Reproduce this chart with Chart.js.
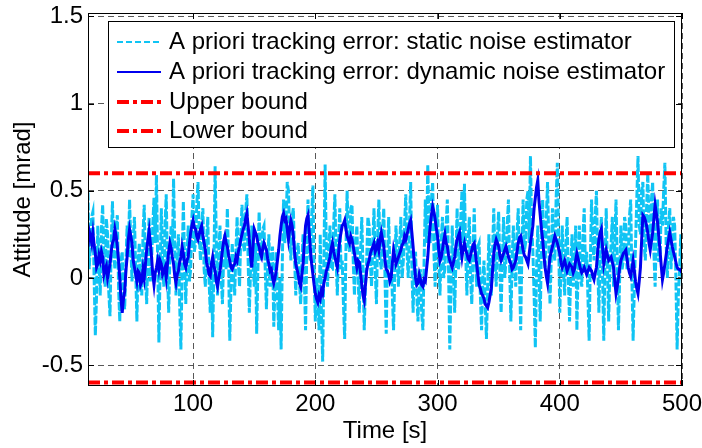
<!DOCTYPE html>
<html>
<head>
<meta charset="utf-8">
<script src="https://cdn.jsdelivr.net/npm/chart.js@4"></script>
<style>
  html, body { margin: 0; padding: 0; background: #fff; }
  #wrap { width: 702px; height: 448px; position: relative; }
</style>
</head>
<body>
<div id="wrap"><canvas id="chart"></canvas></div>
<script>
// sample times: every 1 s from 14 s to 500 s
const tStart = 14;
const tStep = 1;

// A priori tracking error, static noise estimator [mrad]
const staticErr = [
  0.49, 0.05, 0.20, 0.35, 0.38, 0.00, -0.33, -0.10, 0.30, 0.10, -0.10, 0.28, 0.42, 0.12, -0.05, 0.34, 0.25, -0.08, -0.22, 0.20,
  0.44, 0.15, 0.05, 0.30, 0.36, -0.05, -0.25, 0.10, 0.15, -0.12, -0.18, 0.08, 0.30, 0.12, 0.45, 0.20, -0.02, 0.22, 0.35, 0.05,
  -0.25, 0.10, 0.20, -0.05, -0.10, 0.25, 0.42, 0.05, -0.15, 0.15, 0.35, -0.02, 0.10, 0.30, 0.46, 0.20, 0.59, 0.10, -0.37, 0.05,
  0.40, 0.10, -0.05, 0.30, 0.48, 0.05, -0.20, 0.12, 0.30, 0.15, 0.57, 0.20, -0.10, 0.10, 0.25, -0.15, -0.41, 0.05, 0.44, 0.10,
  -0.15, 0.12, 0.30, -0.02, 0.05, 0.35, 0.48, 0.15, 0.20, 0.42, 0.55, 0.25, 0.10, 0.30, 0.40, 0.05, -0.05, 0.22, 0.35, 0.00,
  -0.20, 0.10, -0.34, 0.05, 0.64, 0.20, -0.10, 0.15, 0.30, 0.00, -0.15, 0.12, 0.25, 0.05, 0.40, 0.10, -0.36, -0.05, 0.20, 0.02,
  -0.10, 0.15, 0.35, 0.10, -0.05, 0.25, 0.42, 0.20, 0.15, 0.38, 0.48, 0.10, -0.20, 0.05, 0.30, 0.10, -0.05, 0.20, -0.32, 0.05,
  0.38, 0.15, 0.10, 0.28, 0.30, 0.05, -0.18, 0.10, 0.25, -0.05, 0.00, 0.18, -0.28, -0.05, 0.15, -0.10, -0.30, 0.00, -0.41, 0.10,
  0.45, 0.20, 0.30, 0.55, 0.50, 0.25, 0.10, 0.35, 0.40, 0.12, -0.10, 0.15, 0.20, -0.02, -0.15, 0.10, 0.25, 0.00, -0.30, 0.15,
  0.45, 0.15, 0.10, 0.35, 0.53, 0.05, -0.25, 0.00, -0.10, -0.30, 0.25, -0.20, -0.48, 0.10, 0.65, 0.15, -0.05, 0.18, 0.30, 0.05,
  0.05, 0.30, 0.48, 0.10, -0.10, 0.20, 0.40, 0.05, 0.10, -0.15, -0.35, 0.15, 0.50, 0.22, 0.15, 0.40, 0.42, 0.10, -0.10, 0.20,
  0.30, 0.00, -0.20, 0.15, 0.35, 0.05, -0.30, -0.05, 0.10, 0.35, 0.30, 0.10, -0.05, 0.20, 0.40, 0.05, -0.15, 0.25, 0.45, 0.10,
  0.05, 0.28, 0.40, 0.00, -0.32, 0.10, 0.35, 0.05, 0.10, -0.10, -0.30, 0.05, 0.30, 0.10, -0.05, 0.20, 0.35, 0.00, 0.10, 0.30,
  0.48, 0.15, 0.00, 0.30, 0.55, 0.05, -0.20, 0.10, 0.15, -0.10, -0.25, 0.00, 0.05, -0.20, -0.30, 0.10, 0.45, 0.20, 0.65, 0.30,
  0.20, 0.45, 0.55, 0.15, -0.05, 0.25, 0.42, 0.10, -0.10, 0.20, 0.35, 0.00, 0.05, 0.30, 0.45, 0.05, -0.41, -0.05, 0.30, 0.05,
  -0.20, 0.10, 0.40, 0.05, 0.10, 0.35, 0.50, 0.20, 0.54, 0.15, -0.10, 0.20, 0.35, 0.00, -0.15, 0.15, 0.40, 0.10, -0.05, 0.18,
  0.20, -0.10, -0.30, 0.00, 0.10, -0.15, -0.35, -0.05, 0.25, 0.00, -0.10, 0.15, 0.40, 0.10, -0.05, 0.25, 0.38, 0.05, -0.20, 0.10,
  0.35, 0.00, 0.10, 0.30, 0.45, 0.05, -0.25, 0.10, 0.30, 0.05, -0.05, 0.25, 0.40, 0.05, -0.30, 0.15, 0.45, 0.15, 0.20, 0.45,
  0.50, 0.20, 0.70, 0.30, 0.15, -0.10, -0.40, 0.05, 0.30, 0.05, -0.25, 0.20, 0.45, 0.15, 0.05, 0.35, 0.55, 0.20, -0.15, 0.10,
  0.40, 0.15, 0.10, 0.45, 0.66, 0.25, -0.20, 0.05, 0.30, 0.05, -0.10, 0.20, 0.35, 0.00, -0.25, 0.05, 0.25, -0.05, 0.05, 0.30,
  -0.30, 0.05, 0.30, 0.00, -0.05, 0.25, 0.40, 0.05, 0.15, -0.10, -0.36, 0.10, 0.45, 0.20, 0.10, 0.35, 0.50, 0.10, -0.20, 0.15,
  0.35, 0.00, -0.36, 0.10, 0.40, 0.05, -0.25, 0.05, 0.20, 0.35, -0.05, 0.20, 0.45, 0.10, -0.30, 0.00, 0.30, 0.05, 0.10, 0.35,
  0.30, 0.05, 0.10, 0.35, 0.45, 0.00, -0.36, -0.05, 0.20, 0.45, 0.70, 0.30, 0.25, 0.50, 0.55, 0.20, 0.10, 0.40, 0.60, 0.30,
  0.20, 0.45, 0.55, 0.15, -0.05, 0.25, 0.45, 0.10, 0.10, 0.40, 0.30, 0.50, 0.66, 0.20, 0.00, 0.30, 0.40, 0.05, 0.20, 0.35,
  0.30, 0.00, -0.41, -0.10, 0.05, 0.25, 0.00
];

// A priori tracking error, dynamic noise estimator [mrad]
const dynamicErr = [
  0.18, 0.27, 0.24, 0.20, 0.26, 0.19, 0.14, 0.06, 0.08, 0.13, 0.10, 0.15, 0.12, 0.02, 0.05, 0.07, 0.00, 0.04, 0.08, 0.15,
  0.20, 0.22, 0.28, 0.24, 0.18, 0.10, 0.00, -0.12, -0.20, -0.12, -0.08, 0.04, 0.12, 0.22, 0.28, 0.24, 0.20, 0.10, 0.06, 0.02,
  -0.02, 0.04, 0.03, -0.04, -0.02, 0.05, 0.00, 0.08, 0.16, 0.22, 0.27, 0.20, 0.12, 0.02, -0.04, 0.03, 0.06, 0.10, 0.05, 0.10,
  0.08, 0.02, 0.04, 0.06, 0.00, 0.08, 0.15, 0.20, 0.17, 0.12, 0.08, 0.01, -0.03, 0.02, 0.04, 0.09, 0.12, 0.18, 0.14, 0.08,
  0.06, 0.10, 0.12, 0.20, 0.26, 0.30, 0.33, 0.29, 0.28, 0.24, 0.22, 0.25, 0.28, 0.30, 0.24, 0.20, 0.16, 0.09, 0.06, 0.02,
  0.01, 0.08, 0.12, 0.07, 0.04, -0.02, -0.05, 0.00, 0.04, 0.10, 0.16, 0.21, 0.24, 0.20, 0.18, 0.13, 0.10, 0.06, 0.05, 0.07,
  0.08, 0.12, 0.10, 0.15, 0.18, 0.22, 0.25, 0.28, 0.30, 0.34, 0.37, 0.30, 0.22, 0.12, 0.06, 0.18, 0.28, 0.26, 0.24, 0.20,
  0.18, 0.14, 0.12, 0.17, 0.20, 0.18, 0.16, 0.11, 0.08, 0.04, 0.05, 0.00, -0.03, 0.00, 0.04, 0.10, 0.16, 0.24, 0.30, 0.35,
  0.37, 0.33, 0.34, 0.28, 0.22, 0.28, 0.33, 0.30, 0.24, 0.15, 0.08, 0.05, 0.02, -0.03, -0.05, 0.02, 0.08, 0.20, 0.30, 0.34,
  0.36, 0.26, 0.16, 0.08, 0.02, -0.04, -0.09, -0.12, -0.14, -0.10, -0.12, -0.07, -0.09, -0.03, 0.00, 0.04, 0.06, 0.09, 0.12, 0.17,
  0.20, 0.15, 0.12, 0.09, 0.06, 0.14, 0.22, 0.26, 0.30, 0.31, 0.33, 0.28, 0.24, 0.22, 0.20, 0.24, 0.22, 0.18, 0.14, 0.10,
  0.06, 0.10, 0.09, 0.03, -0.04, -0.10, -0.13, -0.04, 0.04, 0.08, 0.10, 0.14, 0.16, 0.18, 0.20, 0.15, 0.17, 0.20, 0.16, 0.22,
  0.26, 0.22, 0.18, 0.10, 0.05, 0.04, 0.02, -0.02, 0.00, 0.08, 0.16, 0.12, 0.08, 0.10, 0.12, 0.14, 0.16, 0.19, 0.20, 0.24,
  0.22, 0.25, 0.28, 0.31, 0.33, 0.26, 0.18, 0.08, 0.00, -0.04, -0.03, 0.02, -0.01, -0.04, -0.05, -0.01, -0.02, 0.05, 0.12, 0.22,
  0.30, 0.36, 0.41, 0.38, 0.34, 0.28, 0.24, 0.16, 0.10, 0.12, 0.16, 0.21, 0.25, 0.20, 0.18, 0.13, 0.10, 0.08, 0.06, 0.09,
  0.12, 0.18, 0.22, 0.24, 0.26, 0.18, 0.12, 0.17, 0.20, 0.16, 0.14, 0.11, 0.10, 0.13, 0.16, 0.19, 0.20, 0.14, 0.08, 0.02,
  -0.04, -0.06, -0.09, -0.10, -0.12, -0.15, -0.16, -0.17, -0.14, -0.10, -0.06, 0.04, 0.14, 0.19, 0.22, 0.20, 0.18, 0.13, 0.10, 0.12,
  0.14, 0.16, 0.18, 0.15, 0.12, 0.10, 0.08, 0.05, 0.06, 0.08, 0.10, 0.15, 0.20, 0.23, 0.24, 0.20, 0.16, 0.13, 0.12, 0.10,
  0.08, 0.14, 0.20, 0.25, 0.30, 0.40, 0.46, 0.52, 0.56, 0.44, 0.36, 0.28, 0.22, 0.13, 0.06, 0.01, -0.03, 0.05, 0.12, 0.15,
  0.18, 0.21, 0.24, 0.22, 0.20, 0.17, 0.14, 0.09, 0.06, 0.08, 0.10, 0.07, 0.04, 0.06, 0.08, 0.07, 0.06, 0.03, 0.05, 0.10,
  0.14, 0.11, 0.08, 0.05, 0.03, 0.04, 0.06, 0.04, 0.02, 0.04, 0.06, 0.05, 0.04, 0.01, -0.01, 0.03, 0.06, 0.15, 0.22, 0.26,
  0.28, 0.18, 0.08, 0.12, 0.16, 0.13, 0.10, 0.11, 0.12, 0.09, 0.06, -0.02, -0.09, -0.05, 0.00, 0.06, 0.10, 0.12, 0.14, 0.15,
  0.16, 0.11, 0.06, 0.03, 0.01, 0.05, 0.10, 0.04, -0.02, -0.06, -0.09, -0.02, 0.06, 0.22, 0.36, 0.35, 0.33, 0.30, 0.26, 0.20,
  0.16, 0.21, 0.26, 0.34, 0.42, 0.37, 0.32, 0.24, 0.16, 0.07, -0.01, 0.03, 0.08, 0.13, 0.18, 0.22, 0.26, 0.22, 0.18, 0.15,
  0.12, 0.09, 0.06, 0.05, 0.05, 0.04, 0.05
];

const upperBound = 0.6;
const lowerBound = -0.6;

const xTicks = [100, 200, 300, 400, 500];
const yTicks = [-0.5, 0, 0.5, 1, 1.5];
const xMin = 14, xMax = 500;
const yMin = -0.62, yMax = 1.52;

const seriesLabels = [
  'A priori tracking error: static noise estimator',
  'A priori tracking error: dynamic noise estimator',
  'Upper bound',
  'Lower bound'
];

const FONT = "'Liberation Sans', Arial, sans-serif";

const toPoints = (vals) => vals.map((v, i) => ({ x: tStart + i * tStep, y: v }));

// legend box + inward ticks + axes box, MATLAB style
const matlabFrame = {
  id: 'matlabFrame',
  afterDraw(chart) {
    const { ctx, chartArea: a, scales } = chart;
    const x = scales.x, y = scales.y;
    ctx.save();
    ctx.strokeStyle = '#000';
    ctx.lineWidth = 1;
    ctx.beginPath();
    xTicks.forEach((v) => {
      const px = Math.round(x.getPixelForValue(v)) + 0.5;
      ctx.moveTo(px, a.bottom); ctx.lineTo(px, a.bottom - 6);
      ctx.moveTo(px, a.top); ctx.lineTo(px, a.top + 6);
    });
    yTicks.forEach((v) => {
      const py = Math.round(y.getPixelForValue(v)) + 0.5;
      ctx.moveTo(a.left, py); ctx.lineTo(a.left + 6, py);
      ctx.moveTo(a.right, py); ctx.lineTo(a.right - 6, py);
    });
    ctx.stroke();
    ctx.strokeRect(Math.round(a.left) + 0.5, Math.round(a.top) + 0.5,
                   Math.round(a.width) - 1, Math.round(a.height) - 1);

    // legend
    const box = { left: 108, top: 21, right: 675, bottom: 148 };
    ctx.fillStyle = '#fff';
    ctx.fillRect(box.left, box.top, box.right - box.left, box.bottom - box.top);
    ctx.strokeRect(box.left + 0.5, box.top + 0.5, box.right - box.left - 1, box.bottom - box.top - 1);
    const rowY = [42, 72, 102, 131];
    ctx.font = '24px ' + FONT;
    ctx.textBaseline = 'middle';
    ctx.textAlign = 'left';
    chart.data.datasets.forEach((ds, i) => {
      const yy = rowY[i];
      ctx.save();
      ctx.strokeStyle = ds.borderColor;
      ctx.lineWidth = ds.legendWidth || ds.borderWidth;
      ctx.setLineDash(ds.legendDash || ds.borderDash || []);
      ctx.beginPath();
      ctx.moveTo(117, yy);
      ctx.lineTo(161, yy);
      ctx.stroke();
      ctx.restore();
      ctx.fillStyle = '#000';
      ctx.fillText(ds.label, 169, yy);
    });
    ctx.restore();
  }
};

const tickFont = { family: FONT, size: 24 };

new Chart(document.getElementById('chart'), {
  type: 'line',
  data: {
    datasets: [
      {
        label: seriesLabels[0],
        data: toPoints(staticErr),
        borderColor: '#10C4F4',
        borderWidth: 3,
        borderDash: [8, 2],
        legendWidth: 2,
        legendDash: [6, 3],
        pointRadius: 0,
        tension: 0,
        order: 4
      },
      {
        label: seriesLabels[1],
        data: toPoints(dynamicErr),
        borderColor: '#0000EE',
        borderWidth: 3,
        legendWidth: 2,
        pointRadius: 0,
        tension: 0,
        order: 3
      },
      {
        label: seriesLabels[2],
        data: [{ x: xMin, y: upperBound }, { x: xMax, y: upperBound }],
        borderColor: '#FF0000',
        borderWidth: 4,
        borderDash: [12, 4, 4, 4],
        pointRadius: 0,
        order: 2
      },
      {
        label: seriesLabels[3],
        data: [{ x: xMin, y: lowerBound }, { x: xMax, y: lowerBound }],
        borderColor: '#FF0000',
        borderWidth: 4,
        borderDash: [12, 4, 4, 4],
        pointRadius: 0,
        order: 1
      }
    ]
  },
  options: {
    responsive: true,
    maintainAspectRatio: false,
    animation: false,
    layout: { padding: { top: 13, right: 20, left: 0, bottom: 0 } },
    plugins: { legend: { display: false }, tooltip: { enabled: false } },
    scales: {
      x: {
        type: 'linear',
        min: xMin,
        max: xMax,
        afterBuildTicks: (s) => { s.ticks = xTicks.map((v) => ({ value: v })); },
        afterFit: (s) => { s.height = 62; s.paddingLeft = 0; s.paddingRight = 0; },
        ticks: { font: tickFont, color: '#000', padding: 4, maxRotation: 0, autoSkip: false },
        grid: { color: 'rgba(70,70,70,0.9)', lineWidth: 1, drawTicks: false },
        border: { display: false, dash: [6, 4] },
        title: { display: true, text: 'Time [s]', font: tickFont, color: '#000', padding: { top: 0, bottom: 2 } }
      },
      y: {
        type: 'linear',
        min: yMin,
        max: yMax,
        afterBuildTicks: (s) => { s.ticks = yTicks.map((v) => ({ value: v })); },
        afterFit: (s) => { s.width = 88; s.paddingTop = 0; s.paddingBottom = 0; },
        ticks: { font: tickFont, color: '#000', padding: 5, callback: (v) => String(v) },
        grid: { color: 'rgba(70,70,70,0.9)', lineWidth: 1, drawTicks: false },
        border: { display: false, dash: [6, 4] },
        title: { display: true, text: 'Attitude [mrad]', font: tickFont, color: '#000', padding: { top: 9, bottom: 0 } }
      }
    }
  },
  plugins: [matlabFrame]
});
</script>
</body>
</html>
